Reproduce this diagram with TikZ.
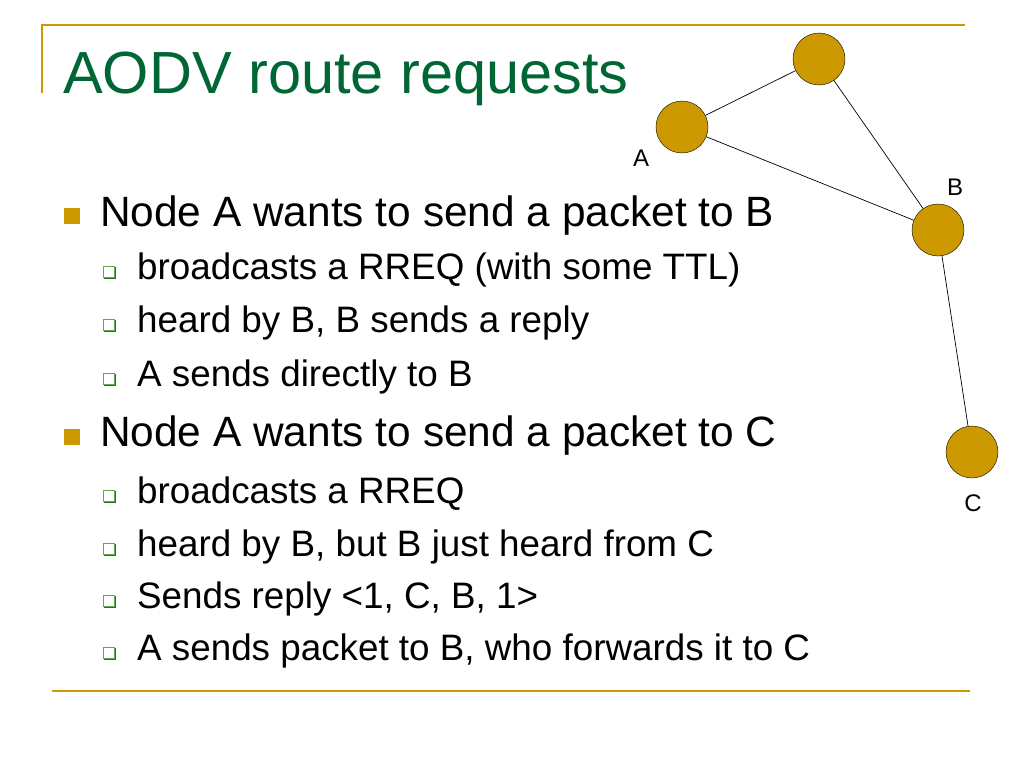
\documentclass[tikz,border=0pt]{standalone}
\usepackage{fontspec}
\setmainfont{Liberation Sans}
\usepackage{xcolor}
\usetikzlibrary{positioning}
\definecolor{gold}{HTML}{CC9900}
\definecolor{titlegreen}{HTML}{006633}
\definecolor{boxgreen}{HTML}{5FA84F}
\definecolor{shadegreen}{HTML}{2F6F2A}

\begin{document}
\begin{tikzpicture}[
  x=1pt, y=-1pt,
  rule/.style={draw=gold, line width=2pt},
  title/.style={anchor=base west, inner sep=0pt, text=titlegreen,
     font=\fontsize{59.5}{70}\selectfont},
  item/.style={anchor=base west, inner sep=0pt,
     font=\fontsize{42.4}{50}\selectfont},
  subitem/.style={anchor=base west, inner sep=0pt,
     font=\fontsize{36.8}{44}\selectfont},
  bulletbox/.style={rectangle, fill=gold, minimum size=16pt, inner sep=0pt},
  subbox/.style={rectangle, draw=boxgreen, fill=white, line width=1.3pt,
     minimum size=11.5pt, inner sep=0pt},
  subshade/.style={rectangle, fill=shadegreen, minimum size=12.5pt, inner sep=0pt},
  host/.style={circle, draw=black, fill=gold, thin, minimum size=52pt, inner sep=0pt},
  tag/.style={font=\fontsize{24}{28}\selectfont},
  link/.style={draw=black, line width=0.7pt}]
\useasboundingbox (0,0) rectangle (1024,768);
% frame rules
\draw[rule] (42,93) -- (42,25) -- (965,25);
\draw[rule] (52,691) -- (970,691);
% title
\node[title] (head) at (63,93) {AODV route requests};
% first item
\node[bulletbox] (m1) at (72,216) {};
\node[item] (t1) at (100,226) {Node A wants to send a packet to B};
\node[subshade] at (110,273) {}; \node[subbox] (s1) at (109,272) {};
\node[subitem] (u1) at (137,279) {broadcasts a RREQ (with some TTL)};
\node[subshade] at (110,326) {}; \node[subbox] (s2) at (109,325) {};
\node[subitem] (u2) at (137,332) {heard by B, B sends a reply};
\node[subshade] at (110,380) {}; \node[subbox] (s3) at (109,379) {};
\node[subitem] (u3) at (137,386) {A sends directly to B};
% second item
\node[bulletbox] (m2) at (72,437) {};
\node[item] (t2) at (100,446) {Node A wants to send a packet to C};
\node[subshade] at (110,497) {}; \node[subbox] (s4) at (109,496) {};
\node[subitem] (u4) at (137,503) {broadcasts a RREQ};
\node[subshade] at (110,550) {}; \node[subbox] (s5) at (109,549) {};
\node[subitem] (u5) at (137,556) {heard by B, but B just heard from C};
\node[subshade] at (110,602) {}; \node[subbox] (s6) at (109,601) {};
\node[subitem] (u6) at (137,608) {Sends reply <1, C, B, 1>};
\node[subshade] at (110,654) {}; \node[subbox] (s7) at (109,653) {};
\node[subitem] (u7) at (137,660) {A sends packet to B, who forwards it to C};
% network
\node[host] (top) at (819,59) {};
\node[host] (a)   at (682,127) {};
\node[host] (b)   at (938,230) {};
\node[host] (c)   at (972,452) {};
\node[tag] (la) at (641,158) {A};
\node[tag] (lb) at (955,187) {B};
\node[tag] (lc) at (973,503) {C};
\path[link]
  (a) edge (top)
  (top) edge (b)
  (a) edge (b)
  (b) edge (c);
\end{tikzpicture}
\end{document}
